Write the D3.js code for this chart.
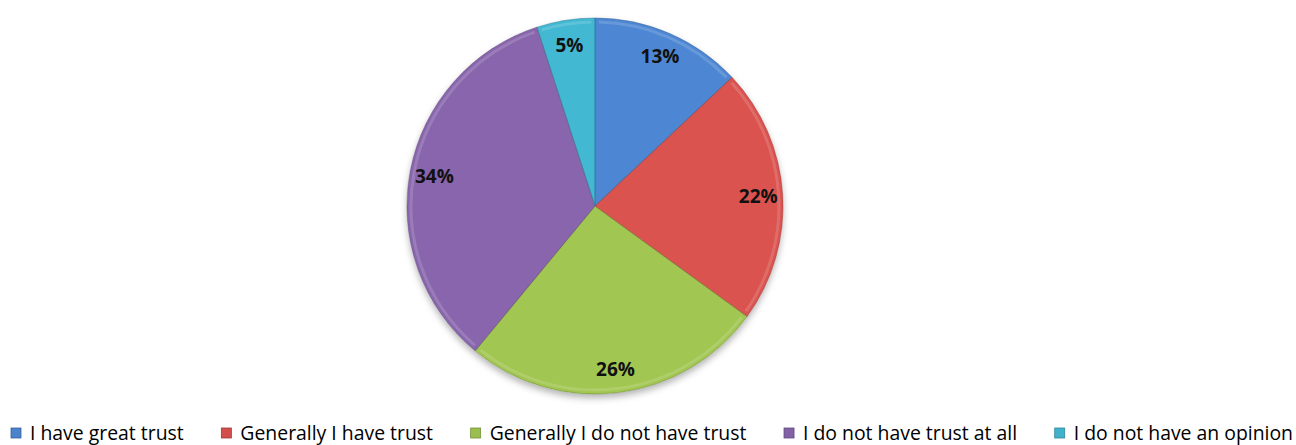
<!DOCTYPE html>
<html>
<head>
<meta charset="utf-8">
<script src="https://cdn.jsdelivr.net/npm/d3@7"></script>
<style>
  html, body { margin: 0; padding: 0; background: #fff; }
  svg { display: block; }
  text { font-family: "Open Sans", Lato, sans-serif; }
</style>
</head>
<body>
<svg id="chart" width="1296" height="445"></svg>
<script>
// Survey answers and their shares (percent)
const categories = [
  "I have great trust",
  "Generally I have trust",
  "Generally I do not have trust",
  "I do not have trust at all",
  "I do not have an opinion"
];
const values = [13, 22, 26, 34, 5];
const labels = ["13%", "22%", "26%", "34%", "5%"];
const colors = ["#4a82cc", "#d24f4c", "#9bbf4e", "#8361a6", "#41b2cc"];

const width = 1296, height = 445;
const cx = 595, cy = 206, radius = 188;

const svg = d3.select("#chart");
const defs = svg.append("defs");

// soft shadow under the pie
const shadow = defs.append("filter").attr("id", "pieShadow")
  .attr("x", "-20%").attr("y", "-20%").attr("width", "140%").attr("height", "140%");
shadow.append("feDropShadow")
  .attr("dx", 0).attr("dy", 4).attr("stdDeviation", 3.5)
  .attr("flood-color", "#000").attr("flood-opacity", 0.3);

// per-slice gradient giving a slightly lit look
colors.forEach((c, i) => {
  const g = defs.append("linearGradient").attr("id", "grad" + i)
    .attr("gradientUnits", "userSpaceOnUse")
    .attr("x1", cx - radius).attr("y1", cy - radius)
    .attr("x2", cx + radius).attr("y2", cy + radius);
  g.append("stop").attr("offset", "0%").attr("stop-color", d3.color(c).brighter(0.1));
  g.append("stop").attr("offset", "100%").attr("stop-color", d3.color(c).darker(0.25));
});

const pie = d3.pie().sort(null).value(d => d)(values);
const arc = d3.arc().innerRadius(0).outerRadius(radius);
const rim = d3.arc().innerRadius(radius - 4).outerRadius(radius - 4);
const labelArc = d3.arc().innerRadius(radius * 0.87).outerRadius(radius * 0.87);

const g = svg.append("g").attr("transform", `translate(${cx},${cy})`);

g.append("g").attr("filter", "url(#pieShadow)")
  .selectAll("path").data(pie).join("path")
  .attr("d", arc)
  .attr("fill", (d, i) => `url(#grad${i})`);

// bevel: darker seam at slice borders, faint highlight just inside the rim
g.append("g").selectAll("path").data(pie).join("path")
  .attr("d", arc)
  .attr("fill", "none")
  .attr("stroke", (d, i) => d3.color(colors[i]).darker(1))
  .attr("stroke-opacity", 0.45)
  .attr("stroke-width", 1);

g.append("g").selectAll("path").data(pie).join("path")
  .attr("d", d => rim({startAngle: d.startAngle + 0.02, endAngle: d.endAngle - 0.02}))
  .attr("fill", "none")
  .attr("stroke", "#fff")
  .attr("stroke-opacity", 0.15)
  .attr("stroke-width", 3);

// value labels
g.append("g").selectAll("text").data(pie).join("text")
  .attr("transform", d => `translate(${labelArc.centroid(d)})`)
  .attr("text-anchor", "middle")
  .attr("dy", "0.38em")
  .attr("font-size", 19)
  .attr("font-weight", "bold")
  .attr("fill", "#111")
  .text((d, i) => labels[i]);

// legend along the bottom, spread to fill the row between the margins
const legendLeft = 11, legendRight = 1293, markerGap = 19;
const legend = svg.append("g").attr("transform", `translate(0, 433)`);
const items = categories.map((name, i) => {
  const item = legend.append("g");
  item.append("rect")
    .attr("x", 0).attr("y", -5).attr("width", 10).attr("height", 10)
    .attr("fill", colors[i])
    .attr("stroke", d3.color(colors[i]).darker(0.8))
    .attr("stroke-width", 0.8);
  const t = item.append("text")
    .attr("x", markerGap).attr("y", 0).attr("dy", "0.36em")
    .attr("font-size", 19.4)
    .attr("fill", "#000")
    .text(name);
  return {item, w: markerGap + t.node().getComputedTextLength()};
});
const used = d3.sum(items, d => d.w);
const spacing = (legendRight - legendLeft - used) / (items.length - 1);
let x = legendLeft;
items.forEach(d => {
  d.item.attr("transform", `translate(${x},0)`);
  x += d.w + spacing;
});
</script>
</body>
</html>
